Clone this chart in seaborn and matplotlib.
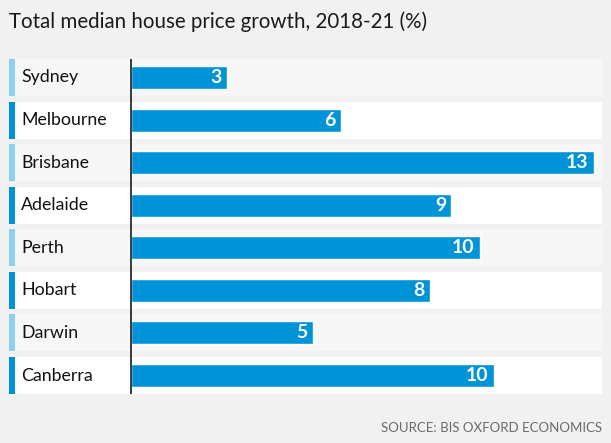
import matplotlib
matplotlib.use("Agg")
import matplotlib.pyplot as plt
import matplotlib.transforms as mtransforms
import pandas as pd
import seaborn as sns

cities = ["Sydney", "Melbourne", "Brisbane", "Adelaide", "Perth", "Hobart", "Darwin", "Canberra"]
growth = [2.7, 5.9, 13.0, 9.0, 9.8, 8.4, 5.1, 10.2]
shown = ["3", "6", "13", "9", "10", "8", "5", "10"]

title = "Total median house price growth, 2018-21 (%)"
source = "SOURCE: BIS OXFORD ECONOMICS"

BG = "#f1f1f1"
BAR = "#0093d7"
LIGHT = "#8dcff0"

sns.set_style("white")
plt.rcParams["font.family"] = ["Lato", "DejaVu Sans"]

W, H = 611, 443
fig = plt.figure(figsize=(W / 100, H / 100), dpi=100, facecolor=BG)
# axes spans the row area: x 9..602 px, y 59..394 px
ax = fig.add_axes([9 / W, 1 - 394 / H, 593 / W, 335 / H])
ax.set_facecolor(BG)

df = pd.DataFrame({"city": cities, "growth": growth})

half = 0.434
for i, c in enumerate(cities):
    odd = i % 2 == 0
    ax.axhspan(i - half, i + half, xmin=0, xmax=1, color="#f7f7f7" if odd else "white", lw=0, zorder=0)
    ax.axhspan(i - half, i + half, xmin=0, xmax=6 / 593, color=LIGHT if odd else BAR, lw=0, zorder=1)

sns.barplot(data=df, x="growth", y="city", color=BAR, width=0.54, saturation=1,
            orient="h", ax=ax, zorder=2)

ax.set_xlim(-122 / 35.6, 471 / 35.6)
ax.set_ylim(len(cities) - 1 + half, -half)
ax.axvline(0, color="#1a1a1a", lw=1.2, zorder=3)

trans = mtransforms.blended_transform_factory(ax.transAxes, ax.transData)
for i, c in enumerate(cities):
    ax.text(12 / 593, i, c, transform=trans, ha="left", va="center",
            fontsize=12.8, color="#111111", zorder=4)
    ax.text(growth[i] - 0.15, i, shown[i], ha="right", va="center",
            fontsize=14, fontweight="bold", color="white", zorder=4)

ax.set_xlabel("")
ax.set_ylabel("")
ax.set_xticks([])
ax.set_yticks([])
sns.despine(ax=ax, left=True, bottom=True)

fig.text(9 / W, 1 - 22 / H, title, ha="left", va="center", fontsize=14.8, color="#1a1a1a")
fig.text(602 / W, 1 - 428 / H, source, ha="right", va="center", fontsize=9.5, color="#6b6b6b")

fig.savefig("out.png", dpi=100, facecolor=BG)
